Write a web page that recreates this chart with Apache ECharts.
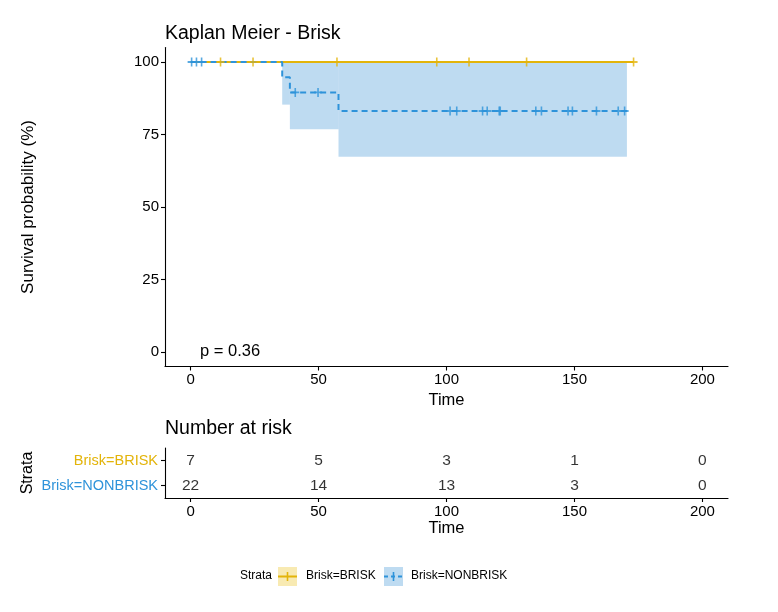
<!DOCTYPE html>
<html><head><meta charset="utf-8">
<script src="https://cdn.jsdelivr.net/npm/echarts@6/dist/echarts.min.js"></script>
<style>html,body{margin:0;padding:0;background:#fff}#c{width:778px;height:612px}</style>
</head><body><div id="c"></div>
<script>
// ---- data ----
const strata = ['Brisk=BRISK', 'Brisk=NONBRISK'];
const timeTicks = [0, 50, 100, 150, 200];
const survTicks = [0, 25, 50, 75, 100];
const briskTime = [0, 173.1];
const briskSurv = [100, 100];
const nonbriskTime = [0, 35.8, 38.8, 57.8, 170.5];
const nonbriskSurv = [100, 94.7, 89.5, 83.1, 83.1];
const ciTime = [35.8, 38.8, 57.8, 170.5];
const ciLower = [85.3, 76.8, 67.3, 67.3];
const ciUpper = [100, 100, 100, 100];
const briskCensorTime = [11.7, 24.4, 57.2, 96.2, 108.8, 131.3, 173.1];
const briskCensorSurv = [100, 100, 100, 100, 100, 100, 100];
const nonbriskCensorTime = [0.4, 2.3, 4.3, 40.9, 49.8, 101.4, 104.0, 114.1, 115.9, 120.6, 121.0, 134.9, 137.1, 147.5, 149.2, 158.6, 167.1, 169.6];
const nonbriskCensorSurv = [100, 100, 100, 89.5, 89.5, 83.1, 83.1, 83.1, 83.1, 83.1, 83.1, 83.1, 83.1, 83.1, 83.1, 83.1, 83.1, 83.1];
const riskTimes = [0, 50, 100, 150, 200];
const riskBrisk = [7, 5, 3, 1, 0];
const riskNonbrisk = [22, 14, 13, 3, 0];
const pValueText = 'p = 0.36';

// ---- styling ----
const FONT = '"Liberation Sans", Arial, Helvetica, sans-serif';
const ORANGE = '#E3B40A';
const BLUE = '#2E93DA';
const BAND = 'rgba(40,135,210,0.30)';
const PLUS = 'path://M4,0H6V4H10V6H6V10H4V6H0V4H4Z';

const zip = (a, b) => a.map((v, i) => [v, b[i]]);
// band steps: [start, end, lower, upper]
const bandSteps = ciTime.slice(0, -1).map((t, i) => [t, ciTime[i + 1], ciLower[i], ciUpper[i]]);

const axisLineStyle = { show: true, onZero: false, lineStyle: { color: '#000', width: 1.1 } };
const tickStyle = { show: true, length: 4, lineStyle: { color: '#000', width: 1.1 } };

const chart = echarts.init(document.getElementById('c'), null, { renderer: 'canvas' });
chart.setOption({
  animation: false,
  backgroundColor: '#fff',
  textStyle: { fontFamily: FONT },
  title: [
    { text: 'Kaplan Meier - Brisk', left: 165, top: 24, padding: 0,
      textStyle: { fontSize: 19.5, fontWeight: 'normal', color: '#000', fontFamily: FONT } },
    { text: 'Number at risk', left: 165, top: 419, padding: 0,
      textStyle: { fontSize: 19.5, fontWeight: 'normal', color: '#000', fontFamily: FONT } }
  ],
  grid: [
    { left: 165, top: 47.5, width: 563, height: 319 },
    { left: 165, top: 448, width: 563, height: 50 }
  ],
  xAxis: [
    { type: 'value', gridIndex: 0, min: -10, max: 210,
      name: 'Time', nameLocation: 'middle', nameGap: 22,
      nameTextStyle: { fontSize: 16.5, color: '#000', fontFamily: FONT },
      axisLine: axisLineStyle, axisTick: Object.assign({ customValues: timeTicks }, tickStyle),
      axisLabel: { customValues: timeTicks, margin: 6, fontSize: 15, color: '#000', fontFamily: FONT },
      splitLine: { show: false } },
    { type: 'value', gridIndex: 1, min: -10, max: 210,
      name: 'Time', nameLocation: 'middle', nameGap: 22,
      nameTextStyle: { fontSize: 16.5, color: '#000', fontFamily: FONT },
      axisLine: axisLineStyle, axisTick: Object.assign({ customValues: timeTicks }, tickStyle),
      axisLabel: { customValues: timeTicks, margin: 6, fontSize: 15, color: '#000', fontFamily: FONT },
      splitLine: { show: false } }
  ],
  yAxis: [
    { type: 'value', gridIndex: 0, min: -5, max: 105,
      name: 'Survival probability (%)', nameLocation: 'middle', nameGap: 128, nameMoveOverlap: false,
      nameTextStyle: { fontSize: 17, color: '#000', fontFamily: FONT },
      axisLine: axisLineStyle,
      axisTick: Object.assign({ customValues: survTicks }, tickStyle),
      axisLabel: { customValues: survTicks, margin: 6, fontSize: 15, color: '#000', fontFamily: FONT },
      splitLine: { show: false } },
    { type: 'category', gridIndex: 1, data: [strata[1], strata[0]],
      name: 'Strata', nameLocation: 'middle', nameGap: 129, nameMoveOverlap: false,
      nameTextStyle: { fontSize: 16, color: '#000', fontFamily: FONT },
      axisLine: axisLineStyle,
      axisTick: Object.assign({ alignWithLabel: true }, tickStyle),
      axisLabel: { margin: 7, fontSize: 14.5, fontFamily: FONT,
        formatter: v => (v === strata[0] ? '{a|' + v + '}' : '{b|' + v + '}'),
        rich: { a: { color: ORANGE, fontSize: 14.5, fontFamily: FONT },
                b: { color: BLUE, fontSize: 14.5, fontFamily: FONT } } },
      splitLine: { show: false } }
  ],
  series: [
    { name: 'ci-band', type: 'custom', xAxisIndex: 0, yAxisIndex: 0, silent: true, z: 1,
      data: bandSteps,
      renderItem: (params, api) => {
        const p0 = api.coord([api.value(0), api.value(3)]);
        const p1 = api.coord([api.value(1), api.value(2)]);
        return { type: 'rect', shape: { x: p0[0], y: p0[1], width: p1[0] - p0[0], height: p1[1] - p0[1] },
                 style: { fill: BAND } };
      } },
    { name: strata[0], type: 'line', xAxisIndex: 0, yAxisIndex: 0, step: 'end',
      data: zip(briskTime, briskSurv), showSymbol: false, symbol: 'none',
      lineStyle: { color: ORANGE, width: 2 }, z: 3 },
    { name: strata[1], type: 'line', xAxisIndex: 0, yAxisIndex: 0, step: 'end',
      data: zip(nonbriskTime, nonbriskSurv), showSymbol: false, symbol: 'none',
      lineStyle: { color: BLUE, width: 2, type: [6, 4] }, z: 4 },
    { name: 'censor-brisk', type: 'scatter', xAxisIndex: 0, yAxisIndex: 0,
      data: zip(briskCensorTime, briskCensorSurv), symbol: PLUS, symbolSize: [8, 9],
      itemStyle: { color: ORANGE }, z: 5 },
    { name: 'censor-nonbrisk', type: 'scatter', xAxisIndex: 0, yAxisIndex: 0,
      data: zip(nonbriskCensorTime, nonbriskCensorSurv), symbol: PLUS, symbolSize: [8, 9],
      itemStyle: { color: BLUE }, z: 6 },
    { name: 'risk-brisk', type: 'scatter', xAxisIndex: 1, yAxisIndex: 1,
      data: riskTimes.map((t, i) => [t, strata[0], riskBrisk[i]]), symbolSize: 0.1,
      itemStyle: { color: 'transparent' },
      label: { show: true, position: 'inside', formatter: p => String(p.value[2]),
               fontSize: 15.5, color: '#000', fontFamily: FONT } },
    { name: 'risk-nonbrisk', type: 'scatter', xAxisIndex: 1, yAxisIndex: 1,
      data: riskTimes.map((t, i) => [t, strata[1], riskNonbrisk[i]]), symbolSize: 0.1,
      itemStyle: { color: 'transparent' },
      label: { show: true, position: 'inside', formatter: p => String(p.value[2]),
               fontSize: 15.5, color: '#000', fontFamily: FONT } }
  ],
  graphic: [
    { type: 'text', left: 200, top: 343,
      style: { text: pValueText, fontSize: 16.5, fill: '#000', fontFamily: FONT } },
    { type: 'group', left: 240, top: 567, children: [
      { type: 'text', x: 0, y: 3, style: { text: 'Strata', fontSize: 12, fill: '#000', fontFamily: FONT } },
      { type: 'rect', x: 38, y: 0, shape: { width: 19, height: 19 }, style: { fill: 'rgba(231,184,0,0.3)' } },
      { type: 'line', shape: { x1: 38, y1: 9.5, x2: 57, y2: 9.5 }, style: { stroke: ORANGE, lineWidth: 2 } },
      { type: 'line', shape: { x1: 47.5, y1: 5, x2: 47.5, y2: 14 }, style: { stroke: ORANGE, lineWidth: 1.6 } },
      { type: 'text', x: 66, y: 3, style: { text: strata[0], fontSize: 12, fill: '#000', fontFamily: FONT } },
      { type: 'rect', x: 144, y: 0, shape: { width: 19, height: 19 }, style: { fill: 'rgba(40,135,210,0.3)' } },
      { type: 'line', shape: { x1: 144, y1: 9.5, x2: 163, y2: 9.5 }, style: { stroke: BLUE, lineWidth: 2, lineDash: [4, 3] } },
      { type: 'line', shape: { x1: 153.5, y1: 5, x2: 153.5, y2: 14 }, style: { stroke: BLUE, lineWidth: 1.6 } },
      { type: 'text', x: 171, y: 3, style: { text: strata[1], fontSize: 12, fill: '#000', fontFamily: FONT } }
    ] }
  ]
});
</script></body></html>
